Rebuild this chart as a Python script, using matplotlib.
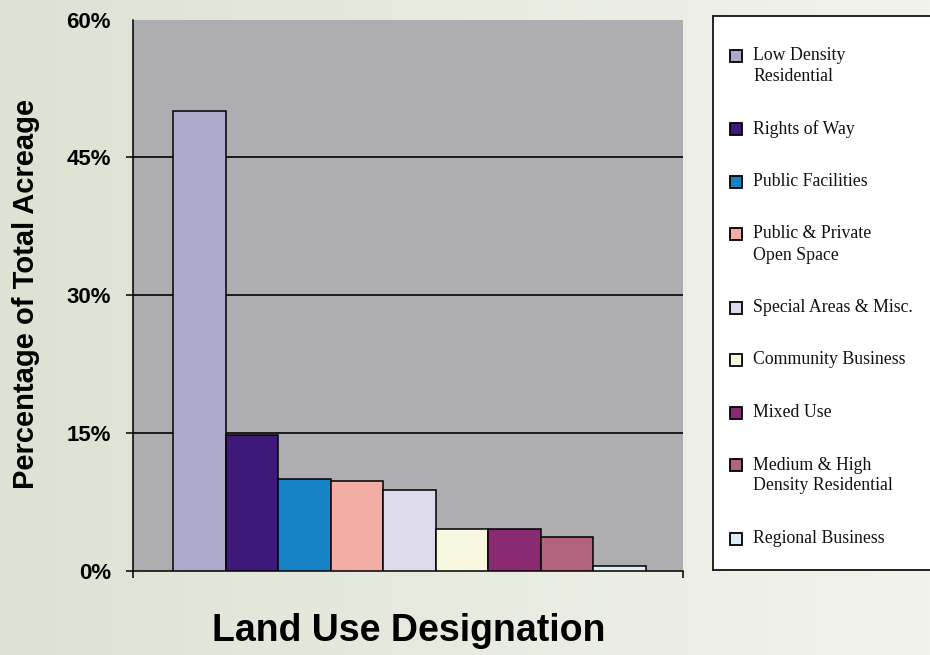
import numpy as np
import matplotlib.pyplot as plt
from matplotlib.patches import Rectangle

# land use shares (percent of total acreage)
categories = ['Low Density\nResidential', 'Rights of Way', 'Public Facilities',
              'Public & Private\nOpen Space', 'Special Areas & Misc.',
              'Community Business', 'Mixed Use',
              'Medium & High\nDensity Residential', 'Regional Business']
shares = [50.0, 14.8, 10.0, 9.8, 8.8, 4.5, 4.5, 3.7, 0.5]
colors = ['#ADAACB', '#3D1A7A', '#1783C7', '#F2ADA4', '#DEDCEC',
          '#F8F8E0', '#8A2A72', '#B2647E', '#DDEEF6']
yticks = [0, 15, 30, 45, 60]
ytick_labels = ['0%', '15%', '30%', '45%', '60%']

W, H = 930, 655
fig = plt.figure(figsize=(W / 100, H / 100), dpi=100)

# soft green-grey gradient behind everything
bg = fig.add_axes([0, 0, 1, 1], zorder=-10)
grad = np.linspace(0, 1, 256)[None, :, None]
left_c = np.array([220, 227, 211]) / 255
right_c = np.array([243, 243, 237]) / 255
bg.imshow(left_c + (right_c - left_c) * grad, aspect='auto', extent=[0, 1, 0, 1])
bg.axis('off')

ax = fig.add_axes([133 / W, 1 - 570.7 / H, (683 - 133) / W, (570.7 - 19.5) / H])
ax.set_facecolor('#AEAEB0')
x = np.arange(len(shares))
ax.bar(x, shares, width=1.0, color=colors, edgecolor='black', linewidth=1.1, zorder=3)

ax.set_xlim(-1.265, 9.21)
ax.set_ylim(0, 60)
ax.set_yticks(yticks)
ax.set_yticklabels(ytick_labels, fontsize=16, fontweight='bold', family='Liberation Sans')
for yv in yticks[1:-1]:
    ax.axhline(yv, color='black', linewidth=1.2, zorder=1)
ax.tick_params(axis='y', direction='out', length=5, width=1.1, pad=11)
ax.yaxis.get_major_ticks()[-1].tick1line.set_visible(False)
ax.set_xticks(ax.get_xlim())
ax.set_xticklabels([])
ax.tick_params(axis='x', direction='out', length=5, width=1.1)
for side in ['top', 'right']:
    ax.spines[side].set_visible(False)
ax.spines['left'].set_linewidth(1.1)
ax.spines['bottom'].set_linewidth(1.1)

fig.text(26 / W, 1 - 294 / H, 'Percentage of Total Acreage', rotation=90,
         ha='center', va='center', fontsize=21, fontweight='bold', family='Liberation Sans')
fig.text(409 / W, 1 - 631 / H, 'Land Use Designation', ha='center', va='center',
         fontsize=27, fontweight='bold', family='Liberation Sans')

# legend box, drawn by hand in pixel units (runs off the right edge like the original)
lx0, ly0, lw, lh = 713, 16, 240, 554
lax = fig.add_axes([lx0 / W, 1 - (ly0 + lh) / H, lw / W, lh / H])
lax.set_xlim(0, lw)
lax.set_ylim(lh, 0)
lax.set_facecolor('white')
lax.set_xticks([])
lax.set_yticks([])
for s in lax.spines.values():
    s.set_linewidth(1.4)
    s.set_color('#222222')

line_h, gap = 21, 31.5
y = 55.5 - ly0
for label, c in zip(categories, colors):
    lines = label.split('\n')
    lax.add_patch(Rectangle((23 - 6, y - 6), 12, 12, facecolor=c,
                            edgecolor='black', linewidth=1.3))
    for k, ln in enumerate(lines):
        lax.text(40, y + k * line_h, ln, ha='left', va='center',
                 fontsize=12.8, family='Liberation Serif', color='#111111')
    y += len(lines) * line_h + gap

fig.savefig('out.png', dpi=100)
